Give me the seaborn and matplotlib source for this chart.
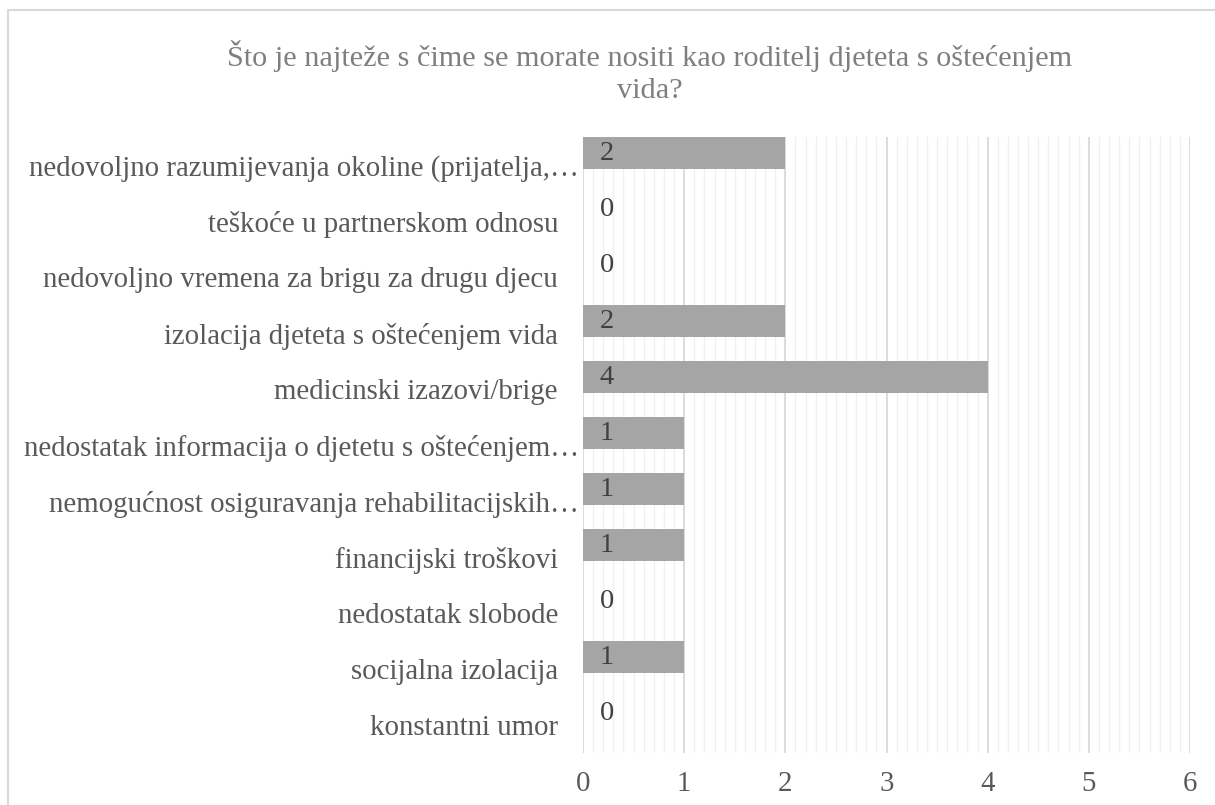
import matplotlib
matplotlib.use("Agg")
import matplotlib.pyplot as plt
import matplotlib.transforms as mtransforms
from matplotlib.lines import Line2D
from matplotlib.ticker import MultipleLocator
import seaborn as sns
import pandas as pd

# Data (top to bottom)
categories = [
    "nedovoljno razumijevanja okoline (prijatelja,…",
    "teškoće u partnerskom odnosu",
    "nedovoljno vremena za brigu za drugu djecu",
    "izolacija djeteta s oštećenjem vida",
    "medicinski izazovi/brige",
    "nedostatak informacija o djetetu s oštećenjem…",
    "nemogućnost osiguravanja rehabilitacijskih…",
    "financijski troškovi",
    "nedostatak slobode",
    "socijalna izolacija",
    "konstantni umor",
]
counts = [2, 0, 0, 2, 4, 1, 1, 1, 0, 1, 0]
x_ticks = [0, 1, 2, 3, 4, 5, 6]
title = "Što je najteže s čime se morate nositi kao roditelj djeteta s oštećenjem\nvida?"

df = pd.DataFrame({"category": categories, "count": counts})

sns.set_style("white")
plt.rcParams["font.family"] = ["Liberation Serif", "DejaVu Serif"]

fig = plt.figure(figsize=(12.15, 8.05), dpi=100)
ax = fig.add_axes([583 / 1215, 1 - 753 / 805, (1190 - 583) / 1215, (753 - 137) / 805])

sns.barplot(data=df, x="count", y="category", orient="h", color="#a5a5a5",
            width=0.57, saturation=1, ax=ax, zorder=3)

# bars sit in the upper part of each category band (Excel style)
for p in ax.patches:
    p.set_y(p.get_y() - 0.214)
    p.set_edgecolor("none")

ax.set_xlim(0, 6)
ax.set_ylim(len(categories) - 0.5, -0.5)
ax.set_xticks(x_ticks)
ax.xaxis.set_minor_locator(MultipleLocator(0.1))
ax.grid(axis="x", which="major", color="#d9d9d9", lw=1.3, zorder=0)
ax.grid(axis="x", which="minor", color="#f0f0f0", lw=1.0, zorder=0)
ax.set_axisbelow(True)
for s in ax.spines.values():
    s.set_visible(False)

ax.set_xlabel("")
ax.set_ylabel("")
ax.tick_params(axis="both", which="both", length=0)
ax.tick_params(axis="y", pad=18, labelsize=20.8, labelcolor="#595959")
ax.tick_params(axis="x", pad=13, labelsize=20.8, labelcolor="#595959")

# truncated labels overflow a bit closer to the axis
shift = mtransforms.ScaledTranslation(21 / 100, 0, fig.dpi_scale_trans)
for lab in ax.get_yticklabels():
    if lab.get_text().endswith("…"):
        lab.set_transform(lab.get_transform() + shift)

# value labels at the base of each bar
for i, v in enumerate(counts):
    ax.annotate(f"{v}", (0, i - 0.214), xytext=(12, 0), textcoords="offset points",
                ha="left", va="center", fontsize=20.5, color="#404040")

fig.text(650 / 1215, 1 - 72 / 805, title, ha="center", va="center", fontsize=21.8,
         color="#7f7f7f", linespacing=1.3)

# chart area border (only top and left are visible in the crop)
fig.add_artist(Line2D([7.5 / 1215, 7.5 / 1215], [0, 1 - 10 / 805], color="#d9d9d9",
                      lw=1.5, transform=fig.transFigure))
fig.add_artist(Line2D([7.5 / 1215, 1], [1 - 10 / 805, 1 - 10 / 805], color="#d9d9d9",
                      lw=1.5, transform=fig.transFigure))

fig.savefig("out.png", dpi=100)
